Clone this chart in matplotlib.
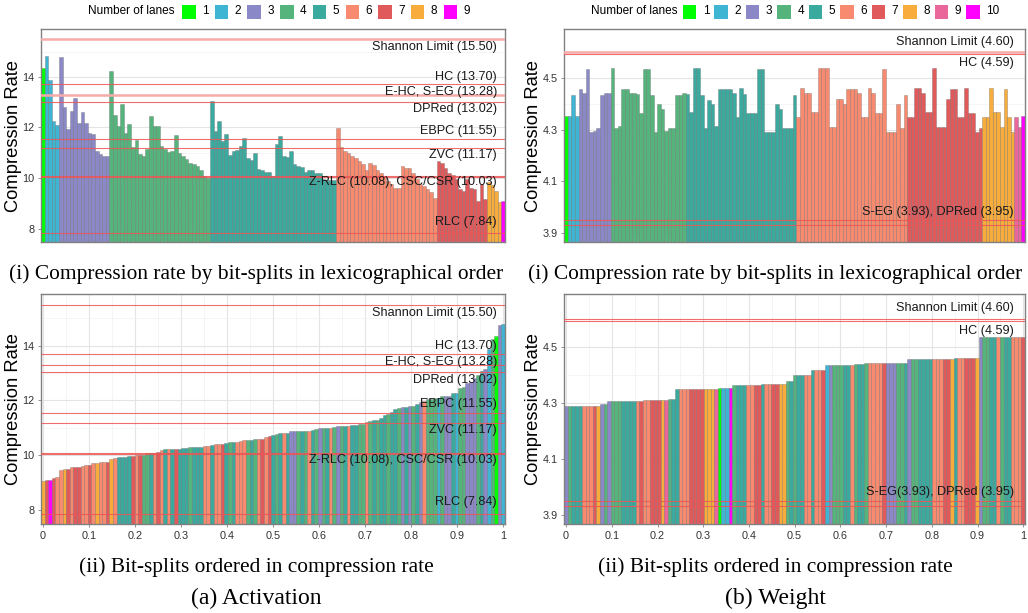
import numpy as np
import matplotlib
matplotlib.use("Agg")
import matplotlib.pyplot as plt
import matplotlib.transforms as mtransforms
from matplotlib.patches import Rectangle
from matplotlib.ticker import MultipleLocator, FuncFormatter

plt.rcParams['font.family'] = ['Liberation Sans', 'DejaVu Sans']

# colours per number of lanes (1..10)
lane_colors = ['#00FF00', '#3DB5D3', '#8B88C7', '#55B47B', '#3AA99E',
               '#F88A6F', '#E05A5C', '#F8AC3B', '#E9679B', '#FF00FF']

# activation: compression rate per bit-split, grouped by number of lanes (lexicographical order)
act_lane1 = [14.35]
act_lane2 = [14.81, 13.87, 12.26, 12.10]
act_lane3 = [14.77, 12.82, 11.94, 12.67, 13.16, 12.17, 12.62, 12.17, 11.78, 11.75,
             11.06, 10.97, 10.86, 10.86]
act_lane4 = [14.24, 12.50, 12.07, 12.94, 11.78, 12.14, 11.24, 11.49, 10.96, 10.88,
             11.13, 12.46, 12.04, 12.04, 11.28, 11.13, 11.02, 11.06, 11.70, 11.00,
             10.86, 10.76, 10.58, 10.56, 10.46, 10.30, 10.07, 9.99]
act_lane5 = [13.06, 11.87, 12.25, 11.45, 11.76, 10.93, 11.06, 11.09, 11.27, 11.57,
             10.80, 10.73, 11.00, 10.37, 10.30, 10.25, 10.22, 10.08, 11.36, 11.67,
             10.86, 10.82, 11.08, 10.56, 10.47, 10.43, 10.25, 10.30, 10.30, 10.21,
             10.20, 9.95, 9.92, 9.92, 9.92]
act_lane6 = [11.96, 11.22, 11.06, 11.00, 10.89, 10.80, 10.67, 10.54, 10.31, 10.60,
             10.51, 10.33, 10.18, 10.08, 9.90, 9.75, 9.62, 9.60, 10.47, 10.41,
             10.41, 10.20, 9.98, 9.75, 9.70, 9.55, 9.45, 9.20]
act_lane7 = [10.69, 10.60, 10.41, 10.21, 10.12, 9.95, 9.56, 9.49, 9.98, 9.62,
             9.56, 9.10, 9.75, 9.16]
act_lane8 = [9.84, 9.71, 9.47, 9.05]
act_lane9 = [9.10]

# weight: same layout, 10 lanes
wt_lane1 = [4.352]
wt_lane2 = [4.352, 4.434, 4.352]
wt_lane3 = [4.455, 4.442, 4.534, 4.289, 4.294, 4.307, 4.434, 4.442, 4.442]
wt_lane4 = [4.536, 4.307, 4.313, 4.455, 4.455, 4.442, 4.442, 4.437, 4.364, 4.534,
            4.534, 4.434, 4.289, 4.397, 4.378, 4.294, 4.307, 4.307, 4.434, 4.434,
            4.440]
wt_lane5 = [4.437, 4.366, 4.536, 4.536, 4.434, 4.307, 4.415, 4.397, 4.313, 4.455,
            4.455, 4.455, 4.455, 4.442, 4.347, 4.459, 4.437, 4.364, 4.364, 4.364,
            4.534, 4.534, 4.289, 4.289, 4.289, 4.397, 4.378, 4.307, 4.307, 4.307,
            4.434]
wt_lane6 = [4.347, 4.459, 4.440, 4.440, 4.366, 4.366, 4.536, 4.536, 4.536, 4.309,
            4.309, 4.417, 4.417, 4.399, 4.455, 4.455, 4.455, 4.440, 4.347, 4.347,
            4.459, 4.440, 4.364, 4.364, 4.534, 4.289, 4.289, 4.289, 4.397, 4.307,
            4.434]
wt_lane7 = [4.347, 4.347, 4.459, 4.459, 4.440, 4.366, 4.366, 4.536, 4.309, 4.309,
            4.309, 4.417, 4.455, 4.455, 4.347, 4.347, 4.459, 4.364, 4.364, 4.289,
            4.307]
wt_lane8 = [4.347, 4.347, 4.459, 4.366, 4.366, 4.309, 4.455, 4.347, 4.289]
wt_lane9 = [4.347, 4.309]
wt_lane10 = [4.352]

act_groups = [act_lane1, act_lane2, act_lane3, act_lane4, act_lane5,
              act_lane6, act_lane7, act_lane8, act_lane9]
wt_groups = [wt_lane1, wt_lane2, wt_lane3, wt_lane4, wt_lane5,
             wt_lane6, wt_lane7, wt_lane8, wt_lane9, wt_lane10]

# reference schemes
act_ref_values = [15.50, 13.70, 13.28, 13.02, 11.55, 11.17, 10.08, 10.03, 7.84]
act_ref_labels = ['Shannon Limit (15.50)', 'HC (13.70)', 'E-HC, S-EG (13.28)',
                  'DPRed (13.02)', 'EBPC (11.55)', 'ZVC (11.17)',
                  'Z-RLC (10.08), CSC/CSR (10.03)', 'RLC (7.84)']
wt_ref_values = [4.60, 4.59, 3.93, 3.95]
wt_ref_labels = ['Shannon Limit (4.60)', 'HC (4.59)', 'S-EG (3.93), DPRed (3.95)']
wt_ref_labels_sorted = ['Shannon Limit (4.60)', 'HC (4.59)', 'S-EG(3.93), DPRed (3.95)']

act_yticks = [8, 10, 12, 14]
wt_yticks = [3.9, 4.1, 4.3, 4.5]

# where the reference labels sit
act_label_y = [15.18, 13.99, 13.40, 12.73, 11.87, 10.93, 9.83, 8.26]
wt_label_y = [4.639, 4.556, 3.981]
act_soft = {15.50, 13.28}
wt_soft = {4.60}

act_colors = lane_colors[:8] + ['#FF00FF']
wt_colors = lane_colors


def style_axes(ax, ylim, yticks):
    step = yticks[1] - yticks[0]
    ax.set_ylim(*ylim)
    ax.set_yticks(yticks)
    ax.set_yticks([t + step / 2 for t in yticks], minor=True)
    ax.yaxis.set_major_formatter(FuncFormatter(lambda v, _: f'{v:g}'))
    ax.grid(True, which='major', color='#e4e4e4', lw=0.8)
    ax.grid(True, which='minor', color='#f1f1f1', lw=0.5)
    ax.set_axisbelow(True)
    for s in ax.spines.values():
        s.set_color('#808080')
        s.set_linewidth(1.0)
    ax.tick_params(which='major', length=2.5, width=0.6, color='#808080',
                   labelsize=7.8, labelcolor='#333333', pad=2)
    ax.tick_params(which='minor', length=0)
    ax.set_ylabel('Compression Rate', fontsize=13.2)


def ref_lines(ax, values, labels, label_y, soft, xr):
    for v in values:
        if v in soft:
            ax.axhline(v, color='#F7AAAA', lw=1.8, zorder=3)
        else:
            ax.axhline(v, color='#EE5555', lw=0.8, alpha=0.85, zorder=3)
    tr = mtransforms.blended_transform_factory(ax.transAxes, ax.transData)
    for lab, y in zip(labels, label_y):
        ax.text(xr, y, lab, transform=tr, ha='right', va='center',
                fontsize=9.1, color='#1a1a1a', zorder=4)


def lex_panel(ax, groups, colors, ylim, yticks):
    vals = np.concatenate(groups)
    lane = np.concatenate([[k] * len(g) for k, g in enumerate(groups)])
    x = np.arange(len(vals))
    ax.bar(x, vals, width=1.0, color=[colors[k] for k in lane],
           edgecolor=(0.35, 0.35, 0.35, 0.45), linewidth=0.45, zorder=2)
    ax.set_xlim(-0.5, len(vals) - 0.5)
    ax.set_xticks([])
    style_axes(ax, ylim, yticks)
    ax.grid(False, axis='x', which='both')


def sorted_panel(ax, groups, colors, ylim, yticks):
    vals = np.concatenate(groups)
    lane = np.concatenate([[k] * len(g) for k, g in enumerate(groups)])
    order = np.argsort(vals, kind='stable')
    n = len(vals)
    x = np.arange(n) / (n - 1)
    ax.bar(x, vals[order], width=1.0 / (n - 1), color=[colors[k] for k in lane[order]],
           edgecolor=(0.35, 0.35, 0.35, 0.45), linewidth=0.45, zorder=2)
    ax.set_xlim(-0.5 / (n - 1), 1 + 0.5 / (n - 1))
    ax.xaxis.set_major_locator(MultipleLocator(0.1))
    ax.xaxis.set_minor_locator(MultipleLocator(0.05))
    ax.xaxis.set_major_formatter(FuncFormatter(lambda v, _: f'{v:g}'))
    style_axes(ax, ylim, yticks)


fig = plt.figure(figsize=(10.28, 6.13), dpi=100)
W, H = 1028.0, 613.0


def px_axes(x0, x1, y0, y1):
    return fig.add_axes([x0 / W, 1 - y1 / H, (x1 - x0) / W, (y1 - y0) / H])


act_ylim = (7.46, 15.88)
wt_ylim = (3.865, 4.687)

ax_a1 = px_axes(41, 505, 29.3, 242.3)
lex_panel(ax_a1, act_groups, act_colors, act_ylim, act_yticks)
ref_lines(ax_a1, act_ref_values, act_ref_labels, act_label_y, act_soft, 0.983)

ax_a2 = px_axes(41, 505, 294.3, 524.3)
sorted_panel(ax_a2, act_groups, act_colors, act_ylim, act_yticks)
ref_lines(ax_a2, act_ref_values, act_ref_labels, act_label_y, set(), 0.983)

ax_w1 = px_axes(564.3, 1025, 29.3, 242.3)
lex_panel(ax_w1, wt_groups, wt_colors, wt_ylim, wt_yticks)
ref_lines(ax_w1, wt_ref_values, wt_ref_labels, wt_label_y, wt_soft, 0.976)

ax_w2 = px_axes(564.3, 1025, 294.3, 524.3)
sorted_panel(ax_w2, wt_groups, wt_colors, wt_ylim, wt_yticks)
ref_lines(ax_w2, wt_ref_values, wt_ref_labels_sorted, wt_label_y, set(), 0.976)

for ax in (ax_a1, ax_a2):
    ax.yaxis.set_label_coords(-0.041, 0.5)
for ax in (ax_w1, ax_w2):
    ax.yaxis.set_label_coords(-0.049, 0.5)

# overlay in pixel coordinates for the lane keys and captions
ov = fig.add_axes([0, 0, 1, 1])
ov.set_xlim(0, W)
ov.set_ylim(H, 0)
ov.axis('off')
ov.patch.set_alpha(0)


def lane_key(x_title, x0, step, colors):
    ov.text(x_title, 11.5, 'Number of lanes', ha='left', va='center', fontsize=8.5)
    for k, c in enumerate(colors):
        ov.add_patch(Rectangle((x0 + k * step, 5), 13.5, 13.5, facecolor=c, edgecolor='none'))
        ov.text(x0 + k * step + 20, 11.5, str(k + 1), ha='left', va='center', fontsize=8.5)


lane_key(88.3, 182, 32.7, act_colors)
lane_key(591, 682.7, 31.5, wt_colors)

serif = ['Liberation Serif', 'DejaVu Serif']
for cx, name in ((256, '(a) Activation'), (775.5, '(b) Weight')):
    ov.text(cx, 274, '(i) Compression rate by bit-splits in lexicographical order',
            ha='center', va='center', fontsize=15.4, family=serif)
    ov.text(cx, 567, '(ii) Bit-splits ordered in compression rate',
            ha='center', va='center', fontsize=15.4, family=serif)
    ov.text(cx, 598, name, ha='center', va='center', fontsize=17, family=serif)

fig.savefig('out.png', dpi=100)
